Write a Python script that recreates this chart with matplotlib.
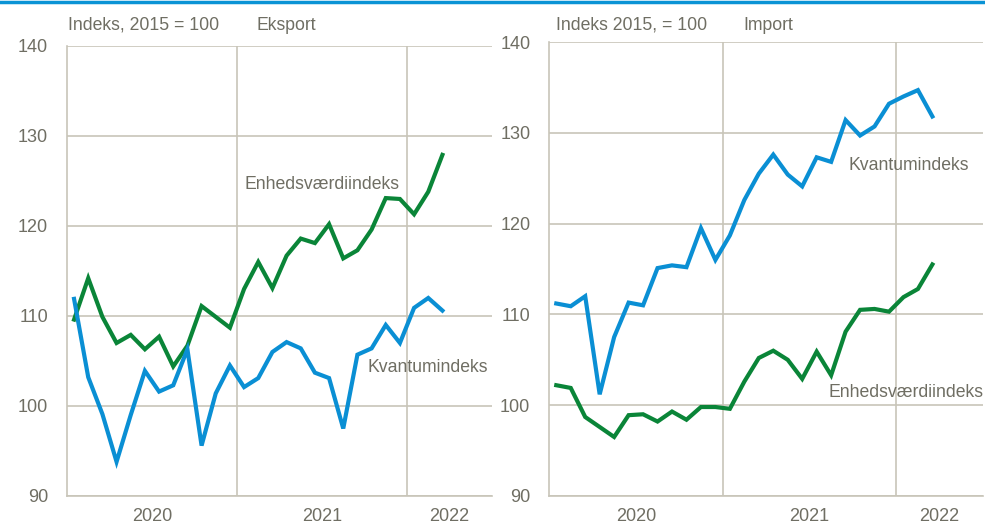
import numpy as np
import matplotlib
matplotlib.use("Agg")
import matplotlib.pyplot as plt
from matplotlib.lines import Line2D

plt.rcParams['font.family'] = ['Liberation Sans', 'DejaVu Sans']

# monthly values, Jan 2020 - Mar 2022
years = ["2020", "2021", "2022"]

eksport_kvantum = [111.9, 103.2, 99.1, 93.8, 99.0, 103.9, 101.6, 102.3, 106.3, 95.6,
                   101.4, 104.5, 102.1, 103.1, 106.0, 107.1, 106.4, 103.7, 103.1, 97.5,
                   105.7, 106.4, 109.0, 107.0, 110.9, 112.0, 110.6]
eksport_enhed = [109.6, 114.2, 109.9, 107.0, 107.9, 106.3, 107.7, 104.4, 106.7, 111.1,
                 109.9, 108.7, 113.0, 116.0, 113.1, 116.7, 118.6, 118.1, 120.2, 116.4,
                 117.3, 119.6, 123.1, 123.0, 121.3, 123.8, 127.9]

import_kvantum = [111.2, 110.9, 112.0, 101.2, 107.5, 111.3, 111.0, 115.1, 115.4, 115.2,
                  119.5, 116.0, 118.7, 122.6, 125.5, 127.6, 125.4, 124.1, 127.3, 126.8,
                  131.4, 129.7, 130.7, 133.2, 134.0, 134.7, 131.8]
import_enhed = [102.2, 101.9, 98.7, 97.6, 96.5, 98.9, 99.0, 98.2, 99.3, 98.4,
                99.8, 99.8, 99.6, 102.6, 105.2, 106.0, 105.0, 102.9, 105.9, 103.3,
                108.1, 110.5, 110.6, 110.3, 111.9, 112.8, 115.5]

BLUE = '#0a8fd4'
GREEN = '#0a8538'
GRID = '#c8c5b9'
TEXT = '#6f6e63'
FS = 12.7


def style_axes(ax):
    ax.set_xlim(0, 30)
    ax.set_ylim(90, 140)
    ax.set_yticks([90, 100, 110, 120, 130, 140])
    ax.set_xticks([6, 18, 27])
    ax.set_xticklabels(years)
    ax.set_xticks([12, 24], minor=True)
    ax.grid(True, which='minor', axis='x', color=GRID, lw=1.2)
    ax.grid(True, which='major', axis='y', color=GRID, lw=1.2)
    ax.set_axisbelow(True)
    for s in ['top', 'right']:
        ax.spines[s].set_visible(False)
    for s in ['left', 'bottom']:
        ax.spines[s].set_color(GRID)
        ax.spines[s].set_linewidth(1.2)
    ax.tick_params(axis='both', which='both', length=0, labelsize=13,
                   labelcolor=TEXT)
    ax.tick_params(axis='y', pad=13.5)
    ax.tick_params(axis='x', pad=9)


fig = plt.figure(figsize=(9.85, 5.29), dpi=100)
fig.add_artist(Line2D([0, 1], [0.997, 0.997], color='#0a93d5', lw=2.5,
                      transform=fig.transFigure))

x = np.arange(len(eksport_kvantum)) + 0.5

# Eksport
ax1 = fig.add_axes([0.068, 0.0624, 0.4315, 0.8507])
style_axes(ax1)
ax1.plot(x, eksport_enhed, color=GREEN, lw=3, solid_joinstyle='miter')
ax1.plot(x, eksport_kvantum, color=BLUE, lw=3, solid_joinstyle='miter')
ax1.text(12.55, 124.6, 'Enhedsværdiindeks', color=TEXT, fontsize=FS, va='center')
ax1.text(21.2, 104.3, 'Kvantumindeks', color=TEXT, fontsize=FS, va='center')
fig.text(0.069, 1 - 25 / 529, 'Indeks, 2015 = 100', color=TEXT, fontsize=FS, va='center')
fig.text(0.26, 1 - 25 / 529, 'Eksport', color=TEXT, fontsize=FS, va='center')

# Import
ax2 = fig.add_axes([0.5574, 0.0624, 0.4406, 0.8582])
style_axes(ax2)
ax2.plot(x, import_enhed, color=GREEN, lw=3, solid_joinstyle='miter')
ax2.plot(x, import_kvantum, color=BLUE, lw=3, solid_joinstyle='miter')
ax2.text(20.7, 126.4, 'Kvantumindeks', color=TEXT, fontsize=FS, va='center')
ax2.text(19.3, 101.45, 'Enhedsværdiindeks', color=TEXT, fontsize=FS, va='center')
fig.text(0.5645, 1 - 25 / 529, 'Indeks 2015, = 100', color=TEXT, fontsize=FS, va='center')
fig.text(0.755, 1 - 25 / 529, 'Import', color=TEXT, fontsize=FS, va='center')

fig.savefig('out.png', dpi=100)
